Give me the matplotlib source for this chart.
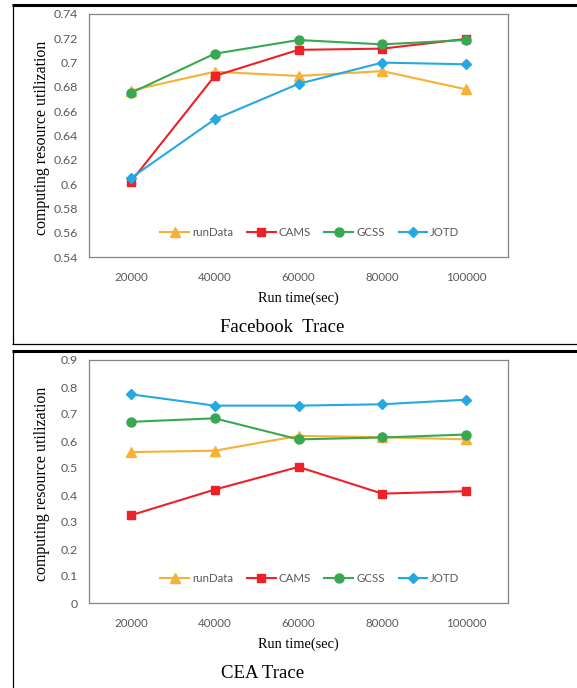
import matplotlib
matplotlib.use("Agg")
import matplotlib.pyplot as plt
from matplotlib.lines import Line2D

# Run times (x categories)
run_times = ["20000", "40000", "60000", "80000", "100000"]
series_names = ["runData", "CAMS", "GCSS", "JOTD"]

# Facebook trace utilization
fb_rundata = [0.677, 0.6925, 0.689, 0.693, 0.678]
fb_cams = [0.602, 0.689, 0.7105, 0.7115, 0.7195]
fb_gcss = [0.675, 0.7073, 0.7186, 0.715, 0.7186]
fb_jotd = [0.605, 0.6533, 0.6825, 0.700, 0.6986]

# CEA trace utilization
cea_rundata = [0.559, 0.564, 0.619, 0.614, 0.606]
cea_cams = [0.325, 0.420, 0.504, 0.405, 0.414]
cea_gcss = [0.671, 0.684, 0.606, 0.613, 0.624]
cea_jotd = [0.773, 0.731, 0.731, 0.736, 0.753]

fb_yticks = [0.54, 0.56, 0.58, 0.6, 0.62, 0.64, 0.66, 0.68, 0.7, 0.72, 0.74]
fb_yticklabels = ["0.54", "0.56", "0.58", "0.6", "0.62", "0.64", "0.66", "0.68", "0.7", "0.72", "0.74"]
cea_yticks = [0, 0.1, 0.2, 0.3, 0.4, 0.5, 0.6, 0.7, 0.8, 0.9]
cea_yticklabels = ["0", "0.1", "0.2", "0.3", "0.4", "0.5", "0.6", "0.7", "0.8", "0.9"]

colors = ["#F6B136", "#EC2228", "#38A853", "#26A9E0"]
markers = ["^", "s", "o", "D"]
msizes = [6.5, 6.0, 6.5, 4.6]

W, H = 577, 688
fig = plt.figure(figsize=(W / 100, H / 100), dpi=100)

tick_font = "Lato"
serif_font = "Liberation Serif"
tick_color = "#595959"
spine_color = "#858585"


def px_rect(left, top, right, bottom):
    return [left / W, 1 - bottom / H, (right - left) / W, (bottom - top) / H]


def draw_panel(rect, data, ylim, yticks, yticklabels, title, title_x, top_px):
    ax = fig.add_axes(rect)
    xs = list(range(len(run_times)))
    for vals, name, c, m, ms in zip(data, series_names, colors, markers, msizes):
        ax.plot(xs, vals, color=c, marker=m, markersize=ms, linewidth=1.5,
                label=name, markeredgecolor=c)
    ax.set_xlim(-0.5, len(run_times) - 0.5)
    ax.set_ylim(*ylim)
    ax.set_xticks(xs)
    ax.set_xticklabels(run_times)
    ax.set_yticks(yticks)
    ax.set_yticklabels(yticklabels)
    ax.tick_params(axis="both", length=0, labelcolor=tick_color)
    ax.tick_params(axis="y", pad=8, labelsize=8.9)
    ax.tick_params(axis="x", pad=11, labelsize=8.3)
    for lab in ax.get_xticklabels() + ax.get_yticklabels():
        lab.set_family(tick_font)
    for sp in ax.spines.values():
        sp.set_color(spine_color)
        sp.set_linewidth(0.9)
    leg = ax.legend(loc="center", bbox_to_anchor=(0.527, 0.099), ncol=4,
                    frameon=False, handlelength=2.5, handletextpad=0.25,
                    columnspacing=1.2, prop={"family": tick_font, "size": 8.3},
                    borderaxespad=0)
    for t in leg.get_texts():
        t.set_color(tick_color)

    # y-axis label, x-axis label and panel title
    fig.text(42 / W, 1 - (top_px + 124) / H, "computing resource utilization",
             rotation=90, ha="center", va="center", family=serif_font,
             fontsize=11.4)
    fig.text(298 / W, 1 - (top_px + 284) / H, "Run time(sec)", ha="center",
             va="center", family=serif_font, fontsize=10.4)
    fig.text(title_x / W, 1 - (top_px + 313) / H, title, ha="center",
             va="center", family=serif_font, fontsize=13.5)
    return ax


draw_panel(px_rect(89, 14, 508, 257),
           [fb_rundata, fb_cams, fb_gcss, fb_jotd],
           (0.54, 0.74), fb_yticks, fb_yticklabels,
           "Facebook  Trace", 282, 14)
draw_panel(px_rect(89, 360, 508, 603),
           [cea_rundata, cea_cams, cea_gcss, cea_jotd],
           (0, 0.9), cea_yticks, cea_yticklabels,
           "CEA Trace", 263, 360)


# Panel frames
def fig_line(x0, y0, x1, y1, lw, color="black"):
    fig.add_artist(Line2D([x0 / W, x1 / W], [1 - y0 / H, 1 - y1 / H],
                          transform=fig.transFigure, color=color,
                          linewidth=lw, solid_capstyle="butt"))


fig_line(12, 5, W, 5, 2.2)
fig_line(12.5, 4, 12.5, 344, 0.9)
fig_line(12, 344, W, 344, 0.9)
fig_line(12, 351, W, 351, 2.2)
fig_line(12.5, 350, 12.5, H, 0.9)

fig.savefig("out.png", dpi=100)
